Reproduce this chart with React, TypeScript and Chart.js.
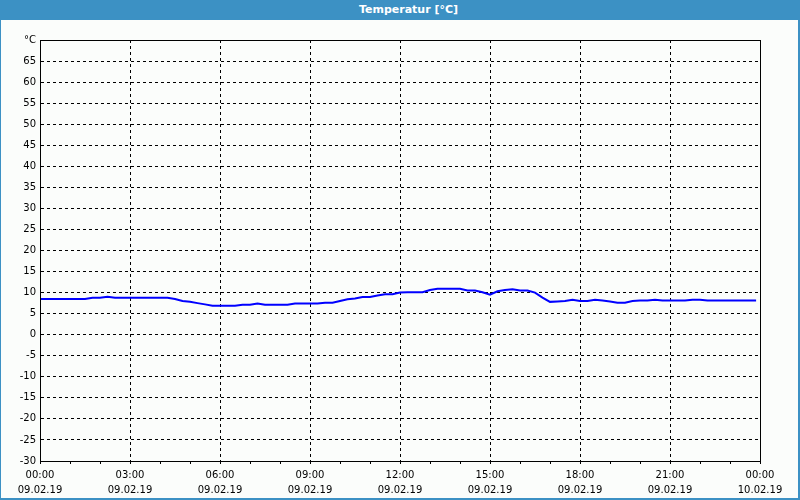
import { useEffect, useRef } from 'react';
import { Chart, registerables } from 'chart.js';

Chart.register(...registerables);

const titleText = 'Temperatur [°C]';

// sample times in hours since 09.02.19 00:00
const sampleHours = [
  0, 0.25, 0.5, 0.75, 1, 1.25, 1.5, 1.75, 2, 2.25, 2.5, 2.75,
  3, 3.25, 3.5, 3.75, 4, 4.25, 4.5, 4.75, 5, 5.25, 5.5, 5.75,
  6, 6.25, 6.5, 6.75, 7, 7.25, 7.5, 7.75, 8, 8.25, 8.5, 8.75,
  9, 9.25, 9.5, 9.75, 10, 10.25, 10.5, 10.75, 11, 11.25, 11.5, 11.75,
  12, 12.25, 12.5, 12.75, 13, 13.25, 13.5, 13.75, 14, 14.25, 14.5, 14.75,
  15, 15.25, 15.5, 15.75, 16, 16.25, 16.5, 16.75, 17, 17.25, 17.5, 17.75,
  18, 18.25, 18.5, 18.75, 19, 19.25, 19.5, 19.75, 20, 20.25, 20.5, 20.75,
  21, 21.25, 21.5, 21.75, 22, 22.25, 22.5, 22.75, 23, 23.25, 23.5, 23.75, 23.87,
];

const temperatures = [
  8.5, 8.5, 8.5, 8.5, 8.5, 8.5, 8.5, 8.8, 8.8, 9.0, 8.8, 8.8,
  8.8, 8.8, 8.8, 8.8, 8.8, 8.8, 8.5, 8.0, 7.8, 7.5, 7.2, 6.9,
  6.9, 6.9, 6.9, 7.1, 7.1, 7.4, 7.1, 7.1, 7.1, 7.1, 7.4, 7.4,
  7.4, 7.4, 7.6, 7.6, 8.0, 8.4, 8.6, 8.95, 8.95, 9.3, 9.6, 9.6,
  10.0, 10.1, 10.1, 10.1, 10.6, 10.9, 10.9, 10.9, 10.9, 10.5, 10.5, 10.1,
  9.5, 10.3, 10.6, 10.8, 10.5, 10.5, 10.0, 8.8, 7.8, 7.9, 8.0, 8.3,
  8.0, 8.0, 8.3, 8.1, 7.9, 7.6, 7.6, 8.0, 8.1, 8.1, 8.3, 8.1,
  8.1, 8.1, 8.1, 8.3, 8.3, 8.1, 8.1, 8.1, 8.1, 8.1, 8.1, 8.1, 8.1,
];

const xTickHours = [0, 3, 6, 9, 12, 15, 18, 21, 24];
const xTimeLabels = ['00:00', '03:00', '06:00', '09:00', '12:00', '15:00', '18:00', '21:00', '00:00'];
const xDateLabels = ['09.02.19', '09.02.19', '09.02.19', '09.02.19', '09.02.19', '09.02.19', '09.02.19', '09.02.19', '10.02.19'];

const yMin = -30;
const yMax = 70;
const yStep = 5;
const yTopLabel = '°C';

const BLUE = '#3c91c4';
const FONT = 'DejaVu Sans';

export default function App() {
  const canvasRef = useRef<HTMLCanvasElement | null>(null);

  useEffect(() => {
    const canvas = canvasRef.current;
    if (!canvas) return;

    const boxPlugin = {
      id: 'plotBox',
      afterDraw(chart: any) {
        const { ctx, chartArea } = chart;
        ctx.save();
        ctx.strokeStyle = '#000';
        ctx.lineWidth = 1;
        ctx.setLineDash([]);
        ctx.strokeRect(
          Math.round(chartArea.left) + 0.5,
          Math.round(chartArea.top) + 0.5,
          Math.round(chartArea.right) - Math.round(chartArea.left),
          Math.round(chartArea.bottom) - Math.round(chartArea.top)
        );
        ctx.restore();
      },
    };

    const chart = new Chart(canvas, {
      type: 'line',
      data: {
        datasets: [
          {
            data: sampleHours.map((h, i) => ({ x: h, y: temperatures[i] })),
            borderColor: '#0000ff',
            borderWidth: 2,
            pointRadius: 0,
            tension: 0,
            fill: false,
          },
        ],
      },
      options: {
        responsive: false,
        animation: false,
        devicePixelRatio: 1,
        layout: { padding: { top: 20, right: 38, bottom: 0, left: 0 } },
        plugins: {
          legend: { display: false },
          tooltip: { enabled: false },
          title: { display: false },
        },
        scales: {
          x: {
            type: 'linear',
            min: 0,
            max: 24,
            afterFit: (scale: any) => {
              scale.height = 37;
            },
            ticks: {
              stepSize: 1,
              autoSkip: false,
              maxRotation: 0,
              minRotation: 0,
              padding: 4,
              color: '#000',
              font: { family: FONT, size: 10, lineHeight: 1.5 },
              callback: (v: any) => {
                const idx = xTickHours.indexOf(Number(v));
                return idx >= 0 ? [xTimeLabels[idx], xDateLabels[idx]] : '';
              },
            },
            grid: {
              color: (ctx: any) =>
                ctx.tick && xTickHours.indexOf(ctx.tick.value) >= 0 ? '#000' : 'rgba(0,0,0,0)',
              tickColor: '#000',
              tickLength: 3,
              lineWidth: 1,
            },
            border: { display: true, color: '#000', width: 1, dash: [3, 3] },
          },
          y: {
            type: 'linear',
            min: yMin,
            max: yMax,
            afterFit: (scale: any) => {
              scale.width = 39;
            },
            ticks: {
              stepSize: yStep,
              padding: 4,
              color: '#000',
              font: { family: FONT, size: 10 },
              callback: (v: any) => (Number(v) === yMax ? yTopLabel : String(v)),
            },
            grid: {
              color: '#000',
              lineWidth: 1,
              drawTicks: false,
            },
            border: { display: true, color: '#000', width: 1, dash: [3, 3] },
          },
        },
      },
      plugins: [boxPlugin],
    } as any);

    return () => chart.destroy();
  }, []);

  return (
    <div
      style={{
        position: 'fixed',
        left: 0,
        top: 0,
        width: 800,
        height: 500,
        boxSizing: 'border-box',
        background: '#fbfdfb',
        borderLeft: `1px solid ${BLUE}`,
        borderRight: `2px solid ${BLUE}`,
        borderBottom: `2px solid ${BLUE}`,
        overflow: 'hidden',
      }}
    >
      <div
        style={{
          height: 20,
          background: BLUE,
          color: '#fff',
          fontFamily: FONT,
          fontWeight: 'bold',
          fontSize: 11,
          lineHeight: '20px',
          textAlign: 'center',
          paddingLeft: 18,
        }}
      >
        {titleText}
      </div>
      <canvas ref={canvasRef} width={797} height={478} style={{ display: 'block' }} />
    </div>
  );
}
